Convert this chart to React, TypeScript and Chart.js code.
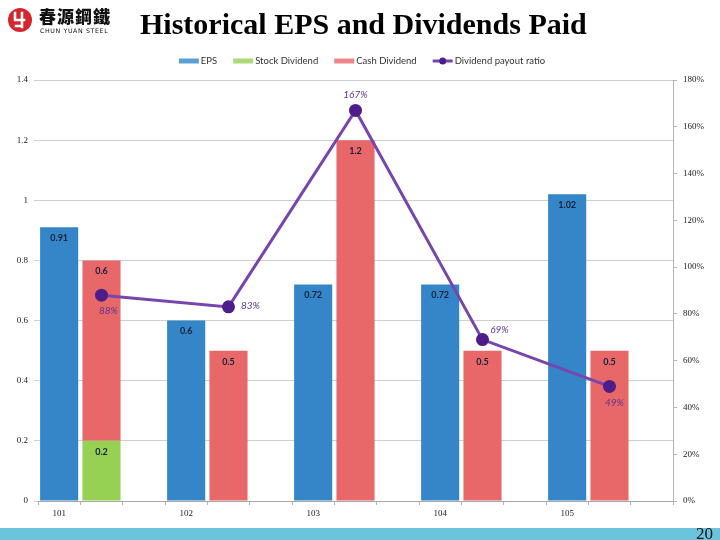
import React, { useEffect, useRef } from "react";
import { Chart, registerables } from "chart.js";

Chart.register(...registerables);

// ---- data ----
const years = ["101", "102", "103", "104", "105"];
const eps = [0.91, 0.6, 0.72, 0.72, 1.02];
const stockDividend = [0.2, 0, 0, 0, 0];
const cashDividend = [0.6, 0.5, 1.2, 0.5, 0.5];
const payoutRatio = [88, 83, 167, 69, 49];
const leftAxisTicks = { min: 0, max: 1.4, step: 0.2 };
const rightAxisTicks = { min: 0, max: 180, step: 20 };

// ---- styling (not data) ----
const COLORS = {
  eps: "#3586c8",
  stock: "#96d154",
  cash: "#e8686a",
  line: "#7845ad",
  point: "#4e1d8a",
  grid: "#cfcfcf",
  axis: "#b5b5b5",
};
const lineLabelOffsets: [number, number][] = [
  [7, 16],
  [22, -1],
  [0, -16],
  [17, -10],
  [5, 16],
];

// each year occupies 3 category slots: EPS, dividends, gap
const SLOTS_PER_YEAR = 3;
const slotLabels = years.flatMap((y) => [y, "", ""]);
const toSlots = (vals: number[], pos: number) =>
  years.flatMap((_, i) =>
    Array.from({ length: SLOTS_PER_YEAR }, (_, k) =>
      k === pos && vals[i] ? vals[i] : null
    )
  );

const overlayPlugin = {
  id: "overlay",
  afterDatasetsDraw(chart: any) {
    const ctx = chart.ctx;
    ctx.save();
    ctx.textAlign = "center";
    ctx.textBaseline = "middle";
    chart.data.datasets.forEach((ds: any, di: number) => {
      const meta = chart.getDatasetMeta(di);
      if (ds.type === "line") {
        ctx.font = "italic 10px Lato";
        ctx.fillStyle = "#5c3591";
        let k = 0;
        meta.data.forEach((el: any, i: number) => {
          const v = ds.data[i];
          if (v == null) return;
          const [dx, dy] = lineLabelOffsets[k++] || [0, -14];
          ctx.fillText(v + "%", el.x + dx, el.y + dy);
        });
      } else {
        ctx.font = "bold 9px Lato";
        ctx.fillStyle = "#15203a";
        meta.data.forEach((el: any, i: number) => {
          const v = ds.data[i];
          if (v == null) return;
          ctx.fillText(String(v), el.x, el.y + 11);
        });
      }
    });
    ctx.restore();
  },
  afterDraw(chart: any) {
    const ctx = chart.ctx;
    ctx.save();
    ctx.font = "9.5px Lato";
    ctx.textBaseline = "middle";
    ctx.textAlign = "left";
    const iconW = 20;
    const gapIcon = 2;
    const gapItem = 16;
    const items = chart.data.datasets.map((ds: any) => ({
      label: ds.label,
      type: ds.type,
      color: ds.type === "line" ? ds.borderColor : ds.backgroundColor,
      pointColor: ds.pointBackgroundColor,
      w: iconW + gapIcon + ctx.measureText(ds.label).width,
    }));
    const total =
      items.reduce((s: number, it: any) => s + it.w, 0) + gapItem * (items.length - 1);
    let x = 362 - total / 2;
    const y = 61;
    items.forEach((it: any) => {
      if (it.type === "line") {
        ctx.strokeStyle = it.color;
        ctx.lineWidth = 3;
        ctx.beginPath();
        ctx.moveTo(x, y);
        ctx.lineTo(x + iconW, y);
        ctx.stroke();
        ctx.fillStyle = it.pointColor;
        ctx.beginPath();
        ctx.arc(x + iconW / 2, y, 3.5, 0, Math.PI * 2);
        ctx.fill();
      } else {
        ctx.globalAlpha = 0.8;
        ctx.fillStyle = it.color;
        ctx.fillRect(x, y - 2.5, iconW, 5);
        ctx.globalAlpha = 1;
      }
      ctx.fillStyle = "#333";
      ctx.fillText(it.label, x + iconW + gapIcon, y);
      x += it.w + gapItem;
    });
    ctx.restore();
  },
};

function ChartCanvas() {
  const ref = useRef<HTMLCanvasElement | null>(null);
  useEffect(() => {
    if (!ref.current) return;
    const tickFont = { family: "Liberation Serif", size: 9 };
    const chart = new Chart(ref.current, {
      type: "bar",
      data: {
        labels: slotLabels,
        datasets: [
          {
            type: "bar",
            label: "EPS",
            data: toSlots(eps, 0),
            backgroundColor: COLORS.eps,
            stack: "s",
            order: 1,
          },
          {
            type: "bar",
            label: "Stock Dividend",
            data: toSlots(stockDividend, 1),
            backgroundColor: COLORS.stock,
            stack: "s",
            order: 1,
          },
          {
            type: "bar",
            label: "Cash Dividend",
            data: toSlots(cashDividend, 1),
            backgroundColor: COLORS.cash,
            stack: "s",
            order: 1,
          },
          {
            type: "line",
            label: "Dividend payout ratio",
            data: toSlots(payoutRatio, 1),
            yAxisID: "y1",
            borderColor: COLORS.line,
            borderWidth: 3,
            pointBackgroundColor: COLORS.point,
            pointBorderColor: COLORS.point,
            pointRadius: 5,
            spanGaps: true,
            tension: 0,
            order: 0,
          } as any,
        ],
      },
      options: {
        animation: false,
        responsive: true,
        maintainAspectRatio: false,
        layout: { padding: { top: 80, bottom: 19, left: 0, right: 0 } },
        datasets: { bar: { barPercentage: 0.9, categoryPercentage: 1 } },
        plugins: {
          legend: { display: false },
          tooltip: { enabled: false },
        },
        scales: {
          x: {
            stacked: true,
            grid: {
              offset: true,
              drawOnChartArea: false,
              tickLength: 4,
              color: COLORS.axis,
            },
            border: { color: "#a8a8a8" },
            ticks: {
              autoSkip: false,
              maxRotation: 0,
              font: tickFont,
              color: "#222",
              padding: 3,
            },
            afterFit: (s: any) => {
              s.height = 20;
            },
          },
          y: {
            stacked: true,
            min: leftAxisTicks.min,
            max: leftAxisTicks.max,
            ticks: {
              stepSize: leftAxisTicks.step,
              font: tickFont,
              color: "#222",
              padding: 6,
              callback: (v: any) => String(Number(Number(v).toFixed(1))),
            },
            grid: { color: COLORS.grid, tickLength: 4 },
            border: { display: false },
            afterFit: (s: any) => {
              s.width = 38;
            },
          },
          y1: {
            position: "right",
            min: rightAxisTicks.min,
            max: rightAxisTicks.max,
            ticks: {
              stepSize: rightAxisTicks.step,
              font: tickFont,
              color: "#222",
              padding: 6,
              callback: (v: any) => v + "%",
            },
            grid: { drawOnChartArea: false, tickLength: 4, color: COLORS.axis },
            border: { color: COLORS.axis },
            afterFit: (s: any) => {
              s.width = 47;
            },
          },
        },
      } as any,
      plugins: [overlayPlugin],
    });
    return () => chart.destroy();
  }, []);
  return <canvas ref={ref} />;
}

function Logo() {
  return (
    <div style={{ position: "absolute", left: 7, top: 7, height: 28, width: 110 }}>
      <svg width="26" height="26" viewBox="0 0 26 26" style={{ position: "absolute", left: 0, top: 0 }}>
        <circle cx="13" cy="13" r="12" fill="#d4262c" />
        <path
          d="M8 6 V13 H17 M15 6 V20 M9 19 H15"
          stroke="#fff"
          strokeWidth="2.6"
          fill="none"
          strokeLinecap="square"
        />
      </svg>
      <div
        style={{
          position: "absolute",
          left: 32,
          top: 0,
          fontFamily: "'Noto Sans CJK TC'",
          fontWeight: 900,
          fontSize: 17,
          lineHeight: "18px",
          letterSpacing: 1,
          color: "#111",
          whiteSpace: "nowrap",
        }}
      >
        春源鋼鐵
      </div>
      <div
        style={{
          position: "absolute",
          left: 33,
          top: 20,
          fontFamily: "'DejaVu Sans'",
          fontSize: 6.3,
          letterSpacing: 0.6,
          color: "#111",
          whiteSpace: "nowrap",
        }}
      >
        CHUN YUAN STEEL
      </div>
    </div>
  );
}

export default function App() {
  return (
    <div
      style={{
        position: "fixed",
        left: 0,
        top: 0,
        width: 720,
        height: 540,
        background: "#fff",
        overflow: "hidden",
      }}
    >
      <div style={{ position: "absolute", left: 0, top: 0, width: 720, height: 540 }}>
        <ChartCanvas />
      </div>
      <Logo />
      <div
        style={{
          position: "absolute",
          left: 140,
          top: 6,
          fontFamily: "'Liberation Serif'",
          fontWeight: "bold",
          fontSize: 30,
          lineHeight: "36px",
          color: "#000",
          whiteSpace: "nowrap",
        }}
      >
        Historical EPS and Dividends Paid
      </div>
      <div
        style={{
          position: "absolute",
          left: 0,
          top: 528,
          width: 720,
          height: 12,
          background: "#6cc4dc",
        }}
      />
      <div
        style={{
          position: "absolute",
          left: 696,
          top: 525,
          fontFamily: "'Liberation Serif'",
          fontSize: 17,
          lineHeight: "17px",
          color: "#111",
        }}
      >
        20
      </div>
    </div>
  );
}
